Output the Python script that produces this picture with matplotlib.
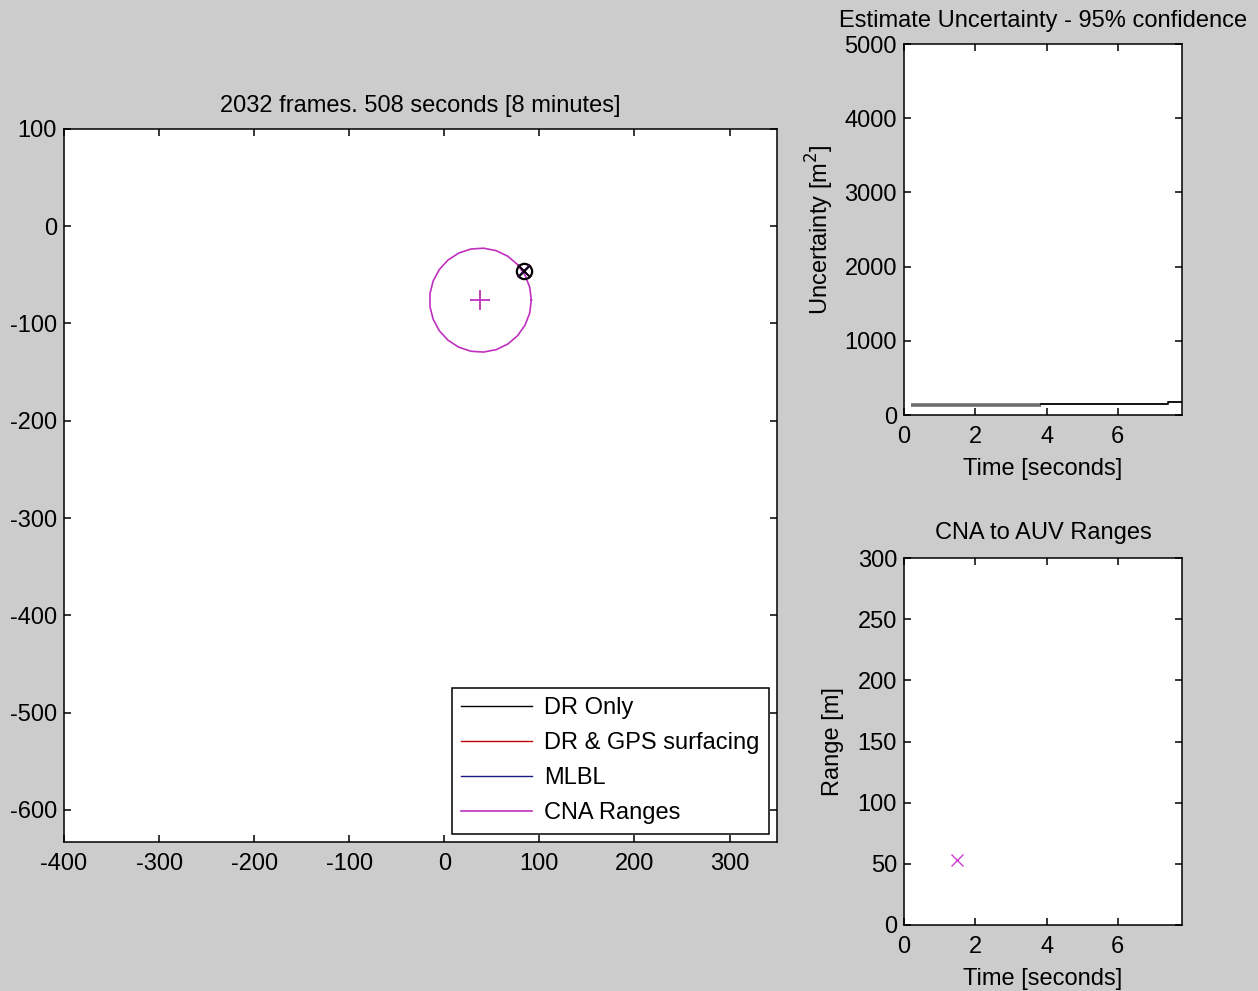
import numpy as np
import matplotlib
matplotlib.use("Agg")
import matplotlib.pyplot as plt

# ---- data -------------------------------------------------------------
title_main = "2032 frames. 508 seconds [8 minutes]"
legend_labels = ["DR Only", "DR & GPS surfacing", "MLBL", "CNA Ranges"]

# vehicle position estimates (m)
dr_x, dr_y = [84], [-46]
gps_x, gps_y = [84], [-46]
mlbl_x, mlbl_y = [84], [-46]

# CNA (communication/navigation aid) position and measured range
cna_x, cna_y = 38, -76
cna_range = 53.5
circle_pts = 26

# estimate uncertainty (m^2) over time (s)
unc_t_early = [0.2, 3.85]
unc_early = [140, 140]
unc_t_late = [3.85, 7.42, 7.42, 7.8]
unc_late = [152, 152, 178, 178]

# range measurements
rng_t = [1.5]
rng_val = [53.5]

main_xticks = [-400, -300, -200, -100, 0, 100, 200, 300]
main_yticks = [100, 0, -100, -200, -300, -400, -500, -600]
time_ticks = [0, 2, 4, 6]
unc_ticks = [0, 1000, 2000, 3000, 4000, 5000]
rng_ticks = [0, 50, 100, 150, 200, 250, 300]

# ---- style ------------------------------------------------------------
BG = "#cccccc"
FS = 17
plt.rcParams.update({
    "font.family": ["Liberation Sans", "DejaVu Sans"],
    "font.size": FS,
    "axes.unicode_minus": False,
    "axes.linewidth": 1.1,
    "xtick.direction": "in",
    "ytick.direction": "in",
    "xtick.top": True,
    "ytick.right": True,
    "xtick.major.size": 5,
    "ytick.major.size": 5,
    "xtick.major.width": 1.1,
    "ytick.major.width": 1.1,
    "xtick.major.pad": 8,
    "ytick.major.pad": 5,
})

fig = plt.figure(figsize=(12.58, 9.91), dpi=100, facecolor=BG)

# ---- main track plot --------------------------------------------------
ax = fig.add_axes([0.0509, 0.1504, 0.5668, 0.7195])
ax.set_facecolor("white")
l_dr, = ax.plot([], [], color="black", lw=1.0)
l_gps, = ax.plot([], [], color="#c00000", lw=1.0)
l_mlbl, = ax.plot([], [], color="#1a1a80", lw=1.0)
th = np.linspace(0, 2 * np.pi, circle_pts)
l_cna, = ax.plot(cna_x + cna_range * np.cos(th), cna_y + cna_range * np.sin(th),
                 color="#c030c0", lw=1.2)
ax.plot([cna_x], [cna_y], marker="+", color="#c030c0", ms=14, mew=1.3, ls="none")
ax.plot(dr_x, dr_y, marker="o", mfc="none", mec="black", ms=11, mew=1.6, ls="none")
ax.plot(gps_x, gps_y, marker="x", color="#c00000", ms=8, mew=1.4, ls="none")
ax.plot(mlbl_x, mlbl_y, marker="x", color="#1a1a80", ms=8, mew=1.2, ls="none")
ax.plot(dr_x, dr_y, marker="x", color="black", ms=8, mew=1.0, ls="none")
ax.set_xlim(-400, 350)
ax.set_ylim(-633, 100)
ax.set_xticks(main_xticks)
ax.set_yticks(main_yticks)
ax.set_title(title_main, fontsize=FS, pad=12)
leg = ax.legend([l_dr, l_gps, l_mlbl, l_cna], legend_labels, loc="lower right",
                fontsize=FS, frameon=True, fancybox=False, edgecolor="black",
                framealpha=1.0, handlelength=3.0, handletextpad=0.5,
                labelspacing=0.55, borderpad=0.4, borderaxespad=0.35)
leg.get_frame().set_linewidth(1.1)

# ---- uncertainty plot -------------------------------------------------
ax_u = fig.add_axes([0.7186, 0.5812, 0.2210, 0.3744])
ax_u.set_facecolor("white")
ax_u.plot(unc_t_early, unc_early, color="#6e6e6e", lw=2.6, solid_capstyle="butt")
ax_u.plot(unc_t_late, unc_late, color="black", lw=1.3)
ax_u.set_xlim(0, 7.8)
ax_u.set_ylim(0, 5000)
ax_u.set_xticks(time_ticks)
ax_u.set_yticks(unc_ticks)
ax_u.set_title("Estimate Uncertainty - 95% confidence", fontsize=FS, pad=12)
ax_u.set_xlabel("Time [seconds]", fontsize=FS, labelpad=7)
ax_u.set_ylabel("Uncertainty [m$^2$]", fontsize=FS, labelpad=6)

# ---- range plot -------------------------------------------------------
ax_r = fig.add_axes([0.7186, 0.0666, 0.2210, 0.3703])
ax_r.set_facecolor("white")
ax_r.plot(rng_t, rng_val, marker="x", color="#d040d0", ms=8, mew=1.0, ls="none")
ax_r.set_xlim(0, 7.8)
ax_r.set_ylim(0, 300)
ax_r.set_xticks(time_ticks)
ax_r.set_yticks(rng_ticks)
ax_r.set_title("CNA to AUV Ranges", fontsize=FS, pad=14)
ax_r.set_xlabel("Time [seconds]", fontsize=FS, labelpad=7)
ax_r.set_ylabel("Range [m]", fontsize=FS, labelpad=10)

fig.savefig("out.png", dpi=100, facecolor=BG)
